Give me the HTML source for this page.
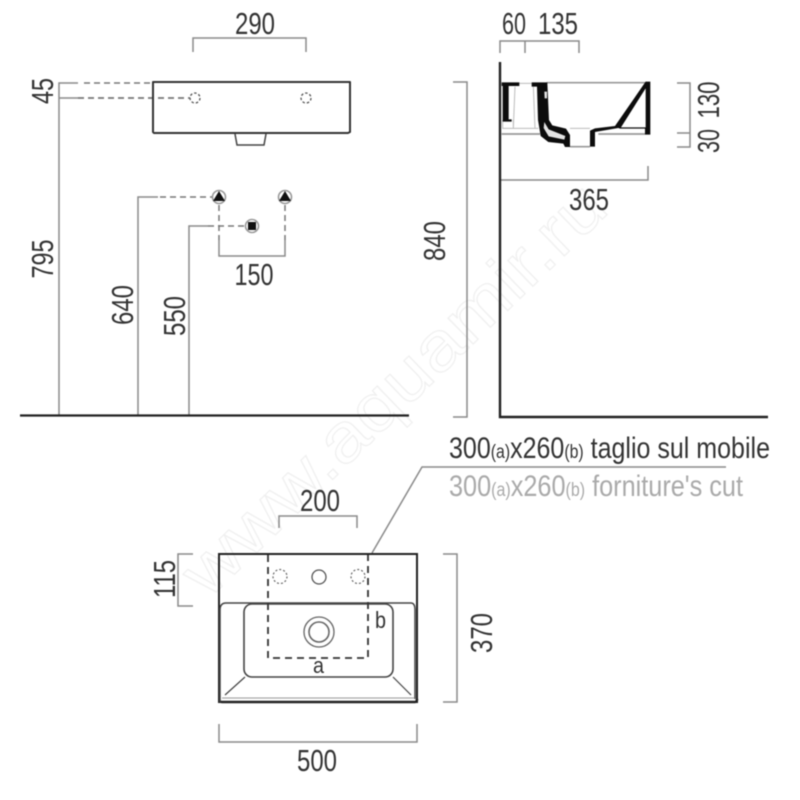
<!DOCTYPE html>
<html><head><meta charset="utf-8"><style>
html,body{margin:0;padding:0;background:#fff}
svg{display:block;filter:blur(.45px)}
text{font-family:"Liberation Sans",sans-serif;fill:#333}
.d{font-size:31px;text-anchor:middle}
</style></head><body>
<svg width="800" height="800" viewBox="0 0 800 800" xmlns="http://www.w3.org/2000/svg">
<rect width="800" height="800" fill="#fff"/>
<!-- watermark -->
<text transform="translate(208,600) rotate(-44)" font-size="68" textLength="560" lengthAdjust="spacingAndGlyphs" style="fill:#fff;stroke:#f0f0f0;stroke-width:1.2">www.aquamir.ru</text>

<!-- dimension lines -->
<g fill="none" stroke="#8a8a8a" stroke-width="1.5">
<path d="M193 52V38H306V52"/>
<path d="M59 415V83H78M59 98H78"/>
<path d="M138 415V197H158M189 415V226H208"/>
<path d="M219 240V256H285V240"/>
<path d="M453 82H467V417H453"/>
<path d="M500 53V41H579V53M525 41V53"/>
<path d="M677 83H690V147H677M677 133H690"/>
<path d="M500 180H648V166"/>
<path d="M193 554H178V606H193"/>
<path d="M443 554H457V702H443"/>
<path d="M219 724V742H417V724"/>
<path d="M279 528V516H357V528"/>
<path d="M372 553L422 467H726"/>
</g>
<g fill="none" stroke="#777" stroke-width="1.5" stroke-dasharray="6 4">
<path d="M84 83H152"/>
<path d="M78 98H190" stroke-width="1.800"/>
<path d="M160 197H212M208 226H245M219 205V240M285 205V240"/>
</g>
<!-- front elevation -->
<path d="M153 82H350V132L348 133H154L153 132Z" fill="none" stroke="#333" stroke-width="2" stroke-linejoin="round"/>
<path d="M235 134L237 145H264L266 134" fill="none" stroke="#444" stroke-width="1.500"/>
<g fill="none" stroke="#555" stroke-width="1.300" stroke-dasharray="2.500 2">
<circle cx="195" cy="98" r="5"/><circle cx="306" cy="98" r="5"/>
</g>
<path d="M20 415.500H409" stroke="#222" stroke-width="2.200"/>
<g stroke="#999" stroke-width="1.600" fill="#fff">
<circle cx="219" cy="197" r="6.500"/><circle cx="285" cy="197" r="6.500"/><circle cx="252" cy="226" r="6.500"/>
</g>
<path d="M219 191L225 201H213ZM285 191L291 201H279Z" fill="#111"/>
<rect x="248" y="222" width="8" height="8" fill="#111"/>

<!-- section -->
<path d="M500 62V417H768" fill="none" stroke="#222" stroke-width="2.400"/>
<g transform="translate(480,40) scale(.3333)">
<g fill="none" stroke="#999" stroke-width="5">
<path d="M200 128H500M65 282H180M355 282H495"/>
<path d="M270 320H330"/>
</g>
<g fill="none" stroke="#bbb" stroke-width="3">
<path d="M105 140L100 265H175M160 140L165 265M270 265H330M118 130H155M100 240V265H68V240"/>
</g>
<g fill="#0c0c0c">
<path d="M65 127H118V138H86V238H95V245H68V138H65Z"/>
<path d="M155 127H202L207 240L217 256L258 266L270 285V321H255L250 311L205 306L182 288L174 240L171 140H155Z"/>
<path d="M330 272L345 265L405 258L497 125H511V284H495V266H420L415 264L345 276V320H330Z"/>
</g>
<path d="M497 145V262H423Z" fill="#fff"/>
<path d="M193 246L206 268L256 288L253 299L206 289L191 264Z" fill="#e4e4e4"/>
<path d="M193 155H201V175H194Z" fill="#e4e4e4"/>
</g>

<!-- plan -->
<path d="M219 554H417V702H219Z" fill="none" stroke="#222" stroke-width="2"/>
<path d="M220 700Q219 702 222 702H415Q417 702 417 699" fill="none" stroke="#222" stroke-width="2.600"/>
<path d="M220 702V610Q220 603 226 603H411Q415 603 415 610V699" fill="none" stroke="#444" stroke-width="1.500"/>
<rect x="244" y="604" width="149" height="73" rx="8" fill="none" stroke="#444" stroke-width="1.600"/>
<path d="M245 677L225 695M393 677L411 695" stroke="#444" stroke-width="1.200" fill="none"/>
<path d="M222 698H414" stroke="#999" stroke-width="1"/>
<circle cx="319" cy="632" r="15" fill="none" stroke="#666" stroke-width="1.300"/>
<circle cx="319" cy="632" r="10" fill="none" stroke="#666" stroke-width="1.600"/>
<circle cx="319" cy="577" r="7" fill="none" stroke="#555" stroke-width="1.300"/>
<g fill="none" stroke="#666" stroke-width="1.200" stroke-dasharray="2 2">
<circle cx="280" cy="576.500" r="7"/><circle cx="358" cy="576.500" r="7"/>
</g>
<path d="M268 555V658H368V555" fill="none" stroke="#333" stroke-width="1.800" stroke-dasharray="7 5"/>

<!-- labels -->
<text class="d" x="255" y="34" textLength="40" lengthAdjust="spacingAndGlyphs">290</text>
<text class="d" x="514" y="34" textLength="24" lengthAdjust="spacingAndGlyphs">60</text>
<text class="d" x="558" y="34" textLength="40" lengthAdjust="spacingAndGlyphs">135</text>
<text class="d" x="254" y="285" textLength="39" lengthAdjust="spacingAndGlyphs">150</text>
<text class="d" x="589" y="210" textLength="40" lengthAdjust="spacingAndGlyphs">365</text>
<text class="d" x="320" y="511" textLength="40" lengthAdjust="spacingAndGlyphs">200</text>
<text class="d" x="317" y="771" textLength="40" lengthAdjust="spacingAndGlyphs">500</text>
<text class="d" transform="translate(53,91) rotate(-90)" textLength="26" lengthAdjust="spacingAndGlyphs">45</text>
<text class="d" transform="translate(53,259) rotate(-90)" textLength="39" lengthAdjust="spacingAndGlyphs">795</text>
<text class="d" transform="translate(133,305) rotate(-90)" textLength="40" lengthAdjust="spacingAndGlyphs">640</text>
<text class="d" transform="translate(185,316) rotate(-90)" textLength="40" lengthAdjust="spacingAndGlyphs">550</text>
<text class="d" transform="translate(445,241) rotate(-90)" textLength="40" lengthAdjust="spacingAndGlyphs">840</text>
<text class="d" transform="translate(719,100) rotate(-90)" textLength="37" lengthAdjust="spacingAndGlyphs">130</text>
<text class="d" transform="translate(719,141) rotate(-90)" textLength="24" lengthAdjust="spacingAndGlyphs">30</text>
<text class="d" transform="translate(175,579) rotate(-90)" textLength="38" lengthAdjust="spacingAndGlyphs">115</text>
<text class="d" transform="translate(492,633) rotate(-90)" textLength="40" lengthAdjust="spacingAndGlyphs">370</text>
<text x="375" y="628" font-size="23" textLength="11" lengthAdjust="spacingAndGlyphs">b</text>
<text x="313" y="673" font-size="22" textLength="11" lengthAdjust="spacingAndGlyphs">a</text>
<text x="449" y="458" font-size="30" textLength="321" lengthAdjust="spacingAndGlyphs">300<tspan font-size="19">(a)</tspan>x260<tspan font-size="19">(b)</tspan> taglio sul mobile</text>
<text x="449" y="496" font-size="30" textLength="294" lengthAdjust="spacingAndGlyphs" style="fill:#aaa">300<tspan font-size="19">(a)</tspan>x260<tspan font-size="19">(b)</tspan> forniture's cut</text>
</svg>
</body></html>
